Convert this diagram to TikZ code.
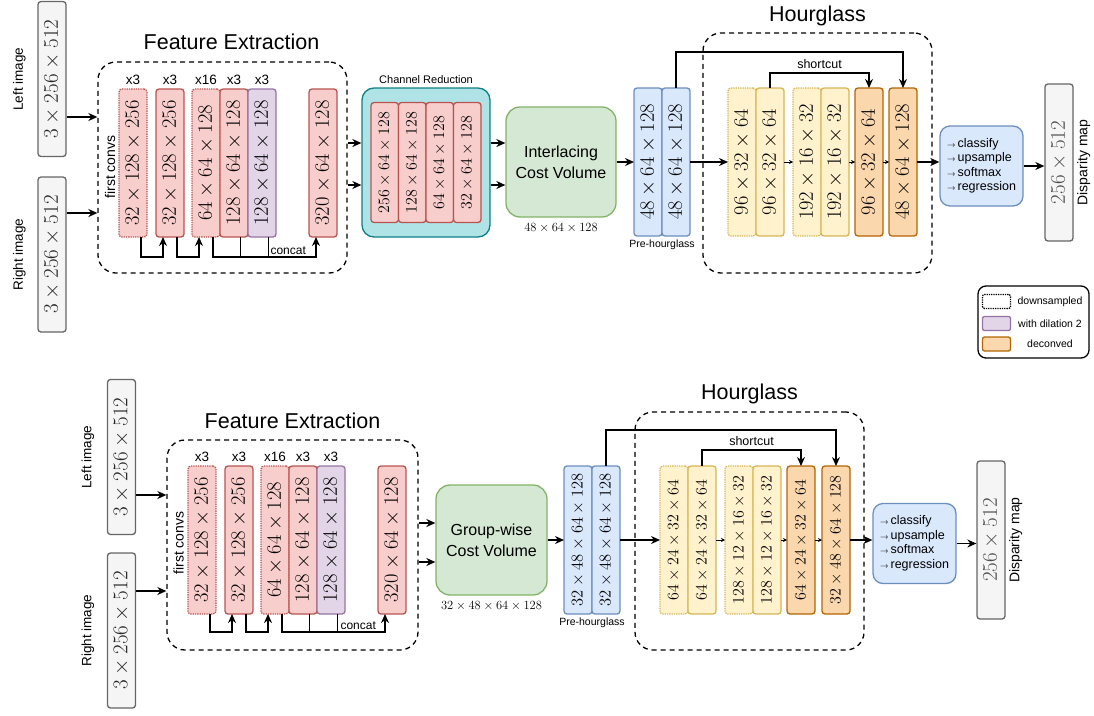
\RequirePackage{fix-cm}
\documentclass[tikz,border=0pt]{standalone}
\usepackage[no-math]{fontspec}
\setsansfont{Liberation Sans}
\usepackage{graphicx}
\usetikzlibrary{arrows.meta,positioning,calc}

\definecolor{redf}{HTML}{F8CECC}
\definecolor{redd}{HTML}{B85450}
\definecolor{purf}{HTML}{E1D5E7}
\definecolor{purd}{HTML}{9673A6}
\definecolor{bluf}{HTML}{DAE8FC}
\definecolor{blud}{HTML}{6C8EBF}
\definecolor{grnf}{HTML}{D5E8D4}
\definecolor{grnd}{HTML}{82B366}
\definecolor{yelf}{HTML}{FFF2CC}
\definecolor{yeld}{HTML}{D6B656}
\definecolor{orf}{HTML}{FAD7AC}
\definecolor{ord}{HTML}{B46504}
\definecolor{gryf}{HTML}{F5F5F5}
\definecolor{gryd}{HTML}{666666}
\definecolor{tealf}{HTML}{B0E3E6}
\definecolor{teald}{HTML}{0E8088}

\newcommand{\fsz}[1]{\fontsize{#1}{#1}\selectfont}
\newcommand{\vtext}[1]{\rotatebox{90}{#1}}
\newcommand{\opar}{{\fsz{8}$\rightarrow$}\,}

\begin{document}
\begin{tikzpicture}[x=1pt, y=-1pt,
    blk/.style={draw, rounded corners=3pt, line width=1.3pt, minimum width=28pt, minimum height=148pt, inner sep=0pt, outer sep=0pt, font=\fsz{20.5}},
    small/.style={font=\fsz{16}},
    conv/.style={fill=redf, draw=redd},
    dil/.style={fill=purf, draw=purd},
    pre/.style={fill=bluf, draw=blud},
    hg/.style={fill=yelf, draw=yeld},
    dcv/.style={fill=orf, draw=ord},
    dsmp/.style={densely dotted},
    inp/.style={draw=gryd, fill=gryf, rounded corners=3pt, line width=1.3pt, minimum width=28pt, minimum height=155pt, inner sep=0pt, font=\fsz{21}, text=black!85},
    outp/.style={inp, minimum height=157pt, text=black!70},
    grp/.style={draw, dash pattern=on 5pt off 4pt, rounded corners=18pt, line width=1.3pt, inner sep=0pt},
    crbox/.style={draw=teald, fill=tealf, rounded corners=12pt, line width=1.3pt, minimum width=128pt, minimum height=149pt},
    cost/.style={draw=grnd, fill=grnf, rounded corners=14pt, line width=1.3pt, minimum width=110pt, minimum height=110pt, align=center, font=\sffamily\fontsize{16}{21}\selectfont},
    ops/.style={draw=blud, fill=bluf, rounded corners=10pt, line width=1.3pt, minimum width=83pt, minimum height=80pt, align=left, font=\sffamily\fontsize{12.5}{14.5}\selectfont},
    ttl/.style={font=\sffamily\fsz{21.5}, inner sep=0pt},
    side/.style={font=\sffamily\fsz{13.5}, inner sep=0pt},
    xlab/.style={font=\sffamily\fsz{13.5}, inner sep=1pt, label distance=3pt},
    note/.style={font=\sffamily\fsz{11}, inner sep=0pt},
    dims/.style={font=\fsz{12.5}, inner sep=0pt},
    lgk/.style={minimum width=28pt, minimum height=14pt, rounded corners=2pt, line width=1.3pt, inner sep=0pt},
    arr/.style={-{Stealth[length=9pt,width=8pt]}, line width=1.4pt},
    tip/.style={-{Stealth[length=4pt,width=4pt]}, line width=0.9pt},
]
\useasboundingbox (0,0) rectangle (1094,715);

% ---------- top: interlacing cost volume ----------
\node[inp] (limg1) at (52,79) {\vtext{$3\times256\times512$}};
\node[inp] (rimg1) at (52,254.5) {\vtext{$3\times256\times512$}};
\node[side, rotate=90] (llab1) at ([xshift=-18pt]limg1.west) {Left image};
\node[side, rotate=90] (rlab1) at ([xshift=-18pt]rimg1.west) {Right image};

\node[grp, minimum width=249pt, minimum height=211pt] (fe1) at (222.5,167.5) {};
\node[ttl, above=11pt of fe1, xshift=9pt] (fet1) {Feature Extraction};
\draw[arr] ([yshift=-38pt]limg1.east) -- ([yshift=-38pt]limg1.east -| fe1.west);
\draw[arr] ([yshift=41.5pt]rimg1.east) -- ([yshift=41.5pt]rimg1.east -| fe1.west);

\node[blk, conv, dsmp, anchor=north west, label={[xlab]above:x3}] (f11) at (119,89) {\vtext{$32\times128\times256$}};
\node[blk, conv, right=9pt of f11, label={[xlab]above:x3}] (f12) {\vtext{$32\times128\times256$}};
\node[blk, conv, dsmp, right=8pt of f12, label={[xlab]above:x16}] (f13) {\vtext{$64\times64\times128$}};
\node[blk, conv, right=0pt of f13, label={[xlab]above:x3}] (f14) {\vtext{$128\times64\times128$}};
\node[blk, dil, right=0pt of f14, label={[xlab]above:x3}] (f15) {\vtext{$128\times64\times128$}};
\node[blk, conv, right=33pt of f15] (f16) {\vtext{$320\times64\times128$}};
\node[side, rotate=90, font=\sffamily\fsz{14}] (fc1) at ([xshift=-9pt,yshift=-4pt]f11.west) {first convs};

\draw[arr] ([xshift=8pt]f11.south) -- ++(0,20) -| ([xshift=-7pt]f12.south);
\draw[arr] ([xshift=7pt]f12.south) -- ++(0,20) -| ([xshift=-7pt]f13.south);
\draw[arr] ([xshift=7pt]f13.south) -- ++(0,20) -| node[note, font=\sffamily\fsz{12}, above=2pt, pos=0.365] {concat} ([xshift=-7pt]f16.south);
\draw[line width=1.4pt] ([xshift=6.5pt]f14.south) -- ++(0,20);
\draw[line width=1.4pt] ([xshift=6.5pt]f15.south) -- ++(0,20);

\node[crbox] (cr1) at (426,162.5) {};
\node[note, above=4pt of cr1] (crt1) {Channel Reduction};
\node[blk, conv, small, minimum height=120pt, minimum width=27.5pt, anchor=west] (c11) at (371,162.5) {\vtext{$256\times64\times128$}};
\node[blk, conv, small, minimum height=120pt, minimum width=27.5pt, right=0pt of c11] (c12) {\vtext{$128\times64\times128$}};
\node[blk, conv, small, minimum height=120pt, minimum width=27.5pt, right=0pt of c12] (c13) {\vtext{$64\times64\times128$}};
\node[blk, conv, small, minimum height=120pt, minimum width=27.5pt, right=0pt of c13] (c14) {\vtext{$32\times64\times128$}};

\node[cost] (cv1) at (561,162) {Interlacing\\Cost Volume};
\node[dims, below=6pt of cv1] (cvd1) {$48\times64\times128$};
\coordinate (u1) at ([yshift=19.5pt]cr1.west);
\coordinate (v1) at ([yshift=-22.5pt]cr1.west);
\draw[arr] (fe1.east |- u1) -- (u1);
\draw[arr] (fe1.east |- v1) -- (v1);
\draw[arr] (cr1.east |- u1) -- (cv1.west |- u1);
\draw[arr] (cr1.east |- v1) -- (cv1.west |- v1);

\node[blk, pre, anchor=north west] (p11) at (634,88) {\vtext{$48\times64\times128$}};
\node[blk, pre, right=0pt of p11] (p12) {\vtext{$48\times64\times128$}};
\node[note, font=\sffamily\fsz{10.5}, below=4pt of p11.south east] (pht1) {Pre-hourglass};
\draw[arr] (cv1.east) -- (p11.west);

\node[grp, minimum width=229pt, minimum height=240pt] (hgb1) at (817.5,153) {};
\node[ttl, above=6pt of hgb1] (hgt1) {Hourglass};
\node[blk, hg, dsmp, anchor=north west] (h11) at (728,88) {\vtext{$96\times32\times64$}};
\node[blk, hg, right=0pt of h11] (h12) {\vtext{$96\times32\times64$}};
\node[blk, hg, dsmp, right=9pt of h12] (h13) {\vtext{$192\times16\times32$}};
\node[blk, hg, right=0pt of h13] (h14) {\vtext{$192\times16\times32$}};
\node[blk, dcv, right=6pt of h14] (h15) {\vtext{$96\times32\times64$}};
\node[blk, dcv, right=6pt of h15] (h16) {\vtext{$48\times64\times128$}};

\draw[arr] (p12.east) -- (h11.west);
\draw[tip] (h12.east) -- (h13.west);
\draw[tip] (h14.east) -- (h15.west);
\draw[tip] (h15.east) -- (h16.west);
\draw[arr] (p12.north) -- ++(0,-36) -| (h16.north);
\draw[arr] (h12.north) -- ++(0,-15) -| node[note, font=\sffamily\fsz{12.5}, above=4pt, pos=0.25] {shortcut} (h15.north);

\node[ops] (cl1) at (981.5,166) {\opar classify\\\opar upsample\\\opar softmax\\\opar regression};
\node[outp] (dm1) at (1059,162.5) {\vtext{$256\times512$}};
\node[side, rotate=90, font=\sffamily\fsz{14}] (dml1) at ([xshift=10pt]dm1.east) {Disparity map};
\draw[arr] (h16.east) -- (h16.east -| cl1.west);
\draw[arr] (cl1.east) -- (cl1.east -| dm1.west);

% legend
\node[draw, rounded corners=8pt, line width=1.3pt, minimum width=111pt, minimum height=72pt] (lg) at (1033.5,322) {};
\node[lgk, draw=black, densely dotted] (lk1) at (996.5,301.5) {};
\node[lgk, dil] (lk2) at (996.5,323.5) {};
\node[lgk, dcv] (lk3) at (996.5,344) {};
\node[note, font=\sffamily\fsz{10.5}] (lt1) at (1050,302) {downsampled};
\node[note, font=\sffamily\fsz{10.5}] (lt2) at (1050,324) {with dilation 2};
\node[note, font=\sffamily\fsz{10.5}] (lt3) at (1050,344) {deconved};

% ---------- bottom: group-wise cost volume ----------
\node[inp] (limg2) at (121.5,457) {\vtext{$3\times256\times512$}};
\node[inp] (rimg2) at (121.5,630.5) {\vtext{$3\times256\times512$}};
\node[side, rotate=90] (llab2) at ([xshift=-19pt]limg2.west) {Left image};
\node[side, rotate=90] (rlab2) at ([xshift=-19pt]rimg2.west) {Right image};

\node[grp, minimum width=251pt, minimum height=210pt] (fe2) at (292.5,545) {};
\node[ttl, above=10pt of fe2] (fet2) {Feature Extraction};
\draw[arr] ([yshift=-38pt]limg2.east) -- ([yshift=-38pt]limg2.east -| fe2.west);
\draw[arr] ([yshift=39.5pt]rimg2.east) -- ([yshift=39.5pt]rimg2.east -| fe2.west);

\node[blk, conv, dsmp, anchor=north west, label={[xlab]above:x3}] (f21) at (188,466) {\vtext{$32\times128\times256$}};
\node[blk, conv, right=9pt of f21, label={[xlab]above:x3}] (f22) {\vtext{$32\times128\times256$}};
\node[blk, conv, dsmp, right=8pt of f22, label={[xlab]above:x16}] (f23) {\vtext{$64\times64\times128$}};
\node[blk, conv, right=0pt of f23, label={[xlab]above:x3}] (f24) {\vtext{$128\times64\times128$}};
\node[blk, dil, right=0pt of f24, label={[xlab]above:x3}] (f25) {\vtext{$128\times64\times128$}};
\node[blk, conv, right=33pt of f25] (f26) {\vtext{$320\times64\times128$}};
\node[side, rotate=90, font=\sffamily\fsz{14}] (fc2) at ([xshift=-9.5pt,yshift=-3pt]f21.west) {first convs};

\draw[arr] ([xshift=8pt]f21.south) -- ++(0,18) -| ([xshift=-7pt]f22.south);
\draw[arr] ([xshift=7pt]f22.south) -- ++(0,18) -| ([xshift=-7pt]f23.south);
\draw[arr] ([xshift=7pt]f23.south) -- ++(0,18) -| node[note, font=\sffamily\fsz{12}, above=2pt, pos=0.37] {concat} ([xshift=-7pt]f26.south);
\draw[line width=1.4pt] ([xshift=6.5pt]f24.south) -- ++(0,18);
\draw[line width=1.4pt] ([xshift=6.5pt]f25.south) -- ++(0,18);

\node[cost, minimum width=111pt] (cv2) at (491.5,540) {Group-wise\\Cost Volume};
\node[dims, below=6pt of cv2] (cvd2) {$32\times48\times64\times128$};
\coordinate (u2) at ([yshift=17pt]cv2.west);
\coordinate (v2) at ([yshift=-22pt]cv2.west);
\draw[arr] (fe2.east |- u2) -- (u2);
\draw[arr] (fe2.east |- v2) -- (v2);

\node[blk, pre, small, font=\fsz{16.5}, anchor=north west] (p21) at (564,466) {\vtext{$32\times48\times64\times128$}};
\node[blk, pre, small, font=\fsz{16.5}, right=0pt of p21] (p22) {\vtext{$32\times48\times64\times128$}};
\node[note, font=\sffamily\fsz{10.5}, below=4pt of p21.south east] (pht2) {Pre-hourglass};
\draw[arr] (cv2.east) -- (p21.west);

\node[grp, minimum width=229pt, minimum height=238pt] (hgb2) at (749.5,531) {};
\node[ttl, above=7pt of hgb2] (hgt2) {Hourglass};
\node[blk, hg, small, dsmp, anchor=north west] (h21) at (660,466) {\vtext{$64\times24\times32\times64$}};
\node[blk, hg, small, right=0pt of h21] (h22) {\vtext{$64\times24\times32\times64$}};
\node[blk, hg, small, dsmp, right=9pt of h22] (h23) {\vtext{$128\times12\times16\times32$}};
\node[blk, hg, small, right=0pt of h23] (h24) {\vtext{$128\times12\times16\times32$}};
\node[blk, dcv, small, right=6pt of h24] (h25) {\vtext{$64\times24\times32\times64$}};
\node[blk, dcv, small, right=7pt of h25] (h26) {\vtext{$32\times48\times64\times128$}};

\draw[arr] (p22.east) -- (h21.west);
\draw[tip] (h22.east) -- (h23.west);
\draw[tip] (h24.east) -- (h25.west);
\draw[tip] (h25.east) -- (h26.west);
\draw[arr] (p22.north) -- ++(0,-36) -| (h26.north);
\draw[arr] (h22.north) -- ++(0,-16) -| node[note, font=\sffamily\fsz{12.5}, above=4pt, pos=0.25] {shortcut} (h25.north);

\node[ops] (cl2) at (914.5,543.5) {\opar classify\\\opar upsample\\\opar softmax\\\opar regression};
\node[outp, minimum height=158pt] (dm2) at (991,540) {\vtext{$256\times512$}};
\node[side, rotate=90, font=\sffamily\fsz{14}] (dml2) at ([xshift=10pt]dm2.east) {Disparity map};
\draw[arr] (h26.east) -- (h26.east -| cl2.west);
\draw[arr] (cl2.east) -- (cl2.east -| dm2.west);
\end{tikzpicture}
\end{document}
